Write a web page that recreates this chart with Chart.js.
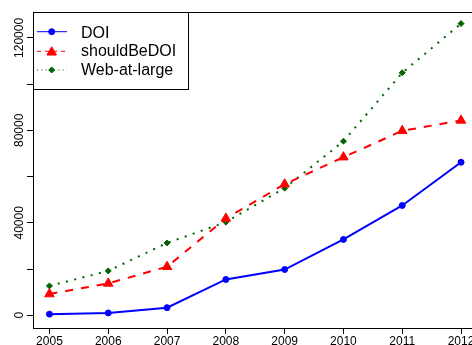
<!DOCTYPE html>
<html><head><meta charset="utf-8">
<script src="https://cdn.jsdelivr.net/npm/chart.js@4/dist/chart.umd.min.js"></script>
<style>html,body{margin:0;padding:0;background:#fff;overflow:hidden;width:472px;height:345px}canvas{display:block}</style>
</head><body>
<canvas id="c" width="484" height="345"></canvas>
<script>
const years = [2005, 2006, 2007, 2008, 2009, 2010, 2011, 2012];
const doi = [500, 1000, 3300, 15500, 19800, 32800, 47500, 66200];
const shouldBeDOI = [9200, 13800, 21000, 41900, 56700, 68400, 79800, 84300];
const webAtLarge = [12700, 19200, 31300, 40300, 55000, 75300, 104900, 126200];
const yTicks = [0, 20000, 40000, 60000, 80000, 100000, 120000];
const yLabels = [0, 40000, 80000, 120000];
const seriesNames = ['DOI', 'shouldBeDOI', 'Web-at-large'];

const FONT = '"Liberation Sans", Arial, Helvetica, sans-serif';
const styles = [
  {color: '#0000FF', dash: [], pointStyle: 'circle', radius: 3, cap: 'butt'},
  {color: '#FF0000', dash: [8, 8], pointStyle: 'triangle', radius: 5.5, cap: 'butt'},
  {color: '#006400', dash: [2, 6.5], pointStyle: 'rectRot', radius: 3, cap: 'butt'}
];
const seriesData = [doi, shouldBeDOI, webAtLarge];

const datasets = seriesData.map((arr, i) => ({
  label: seriesNames[i],
  data: years.map((yr, j) => ({x: yr, y: arr[j]})),
  borderColor: styles[i].color,
  backgroundColor: styles[i].color,
  borderWidth: 2,
  borderDash: styles[i].dash,
  borderCapStyle: styles[i].cap,
  pointStyle: styles[i].pointStyle,
  pointRadius: styles[i].radius,
  pointBorderWidth: 1,
  pointBorderColor: styles[i].color,
  pointBackgroundColor: styles[i].color,
  tension: 0,
  fill: false
}));

const framePlugin = {
  id: 'frame',
  afterDraw(chart) {
    const ctx = chart.ctx, a = chart.chartArea;
    ctx.save();
    ctx.strokeStyle = '#000';
    ctx.lineWidth = 1;
    ctx.setLineDash([]);
    ctx.strokeRect(Math.round(a.left) + 0.5, Math.round(a.top) + 0.5, Math.round(a.right - a.left), Math.round(a.bottom - a.top));
    const ys = chart.scales.y;
    ctx.fillStyle = '#000';
    ctx.font = '12px ' + FONT;
    ctx.textAlign = 'center';
    ctx.textBaseline = 'alphabetic';
    yLabels.forEach(v => {
      const py = ys.getPixelForValue(v);
      ctx.save();
      ctx.translate(22.7, py);
      ctx.rotate(-Math.PI / 2);
      ctx.fillText(String(v), 0, 0);
      ctx.restore();
    });
    const lx = Math.round(a.left) + 0.5, ly = Math.round(a.top) + 0.5;
    ctx.fillStyle = '#fff';
    ctx.fillRect(lx, ly, 155, 77);
    ctx.strokeStyle = '#000';
    ctx.strokeRect(lx, ly, 155, 77);
    const rowsY = [31.7, 51.3, 70];
    const baseY = [37.7, 56.4, 75.2];
    seriesNames.forEach((name, i) => {
      const s = styles[i];
      ctx.strokeStyle = s.color;
      ctx.fillStyle = s.color;
      ctx.lineWidth = 1;
      ctx.lineCap = 'butt';
      ctx.setLineDash(s.dash.map(d => d / 2));
      ctx.beginPath();
      ctx.moveTo(37, rowsY[i]);
      ctx.lineTo(67, rowsY[i]);
      ctx.stroke();
      ctx.setLineDash([]);
      Chart.helpers.drawPoint(ctx, {pointStyle: s.pointStyle, radius: s.radius, rotation: 0, borderWidth: 1}, 51.7, rowsY[i] + (s.pointStyle === 'triangle' ? 1 : 0));
      ctx.fillStyle = '#000';
      ctx.font = '16px ' + FONT;
      ctx.textAlign = 'left';
      ctx.fillText(name, 81, baseY[i]);
    });
    ctx.restore();
  }
};

new Chart(document.getElementById('c'), {
  type: 'line',
  data: {datasets},
  options: {
    responsive: false,
    animation: false,
    devicePixelRatio: 1,
    layout: {padding: {top: 12, left: 0, right: 0, bottom: 0}},
    plugins: {legend: {display: false}, tooltip: {enabled: false}},
    scales: {
      x: {
        type: 'linear',
        min: 2004.72,
        max: 2012.28,
        afterBuildTicks: s => { s.ticks = years.map(v => ({value: v})); },
        afterFit: s => { s.height = 17; },
        grid: {display: true, drawOnChartArea: false, drawTicks: true, tickLength: 6, color: '#000', lineWidth: 1},
        border: {display: false},
        ticks: {color: '#000', font: {family: FONT, size: 12}, padding: 0, maxRotation: 0, autoSkip: false,
                callback: v => String(v)}
      },
      y: {
        type: 'linear',
        min: -5500,
        max: 131200,
        afterBuildTicks: s => { s.ticks = yTicks.map(v => ({value: v})); },
        afterFit: s => { s.width = 33; },
        grid: {display: true, drawOnChartArea: false, drawTicks: true, tickLength: 6, color: '#000', lineWidth: 1},
        border: {display: false},
        ticks: {display: false}
      }
    }
  },
  plugins: [framePlugin]
});
</script>
</body></html>
